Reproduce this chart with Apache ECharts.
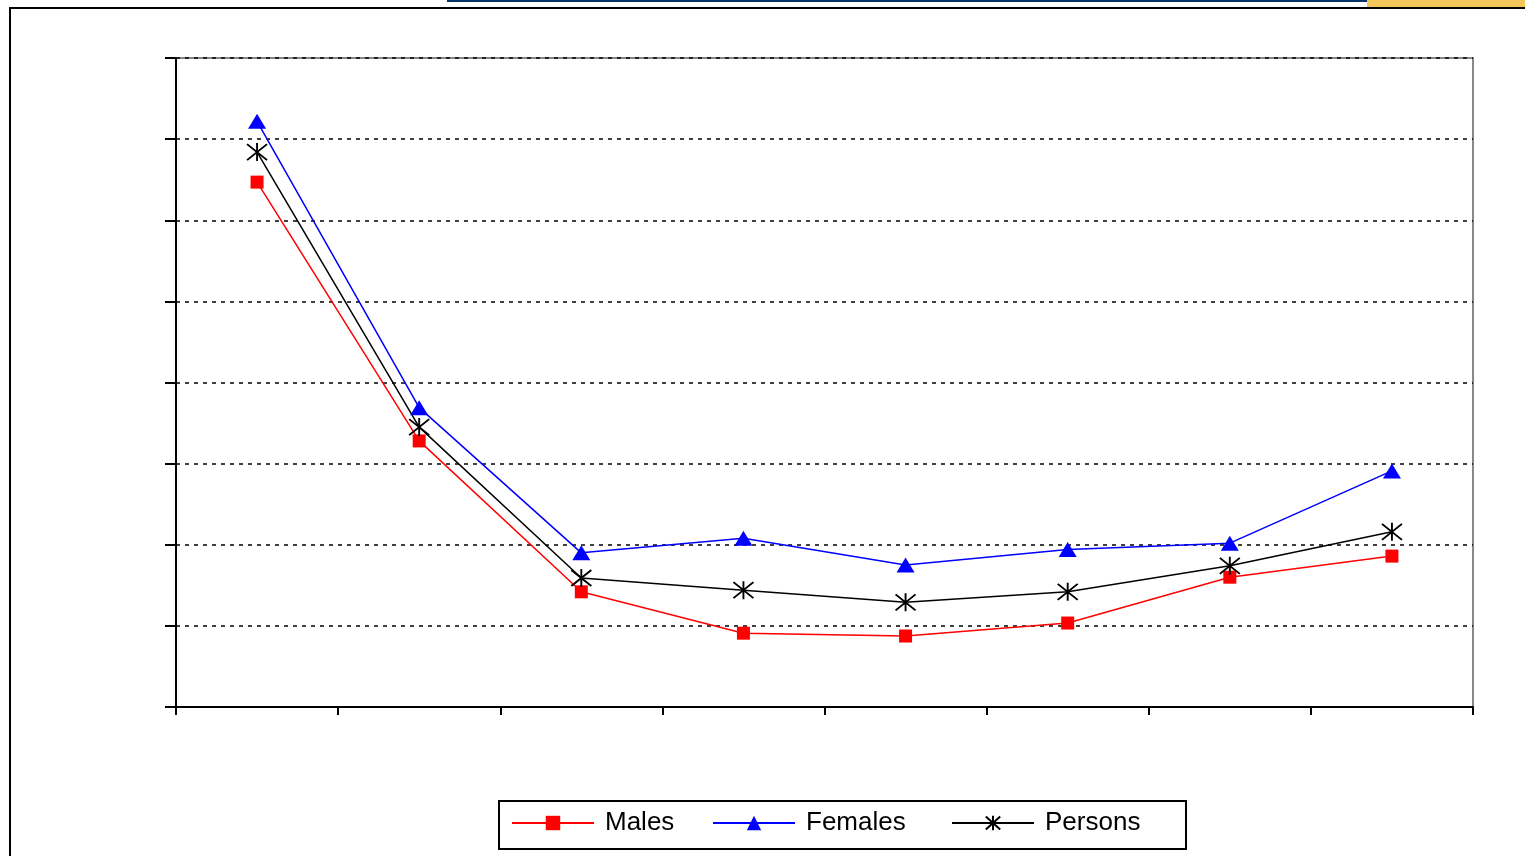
<!DOCTYPE html>
<html><head><meta charset="utf-8">
<script src="https://cdn.jsdelivr.net/npm/echarts@6/dist/echarts.min.js"></script>
<style>html,body{margin:0;padding:0;background:#fff}#c{width:1525px;height:856px}</style>
</head><body><div id="c"></div>
<script>
var categories = ['1', '2', '3', '4', '5', '6', '7', '8'];
var males = [6.47, 3.28, 1.42, 0.91, 0.875, 1.035, 1.60, 1.86];
var females = [7.22, 3.69, 1.90, 2.08, 1.75, 1.94, 2.02, 2.91];
var persons = [6.84, 3.45, 1.59, 1.44, 1.29, 1.42, 1.74, 2.16];
var yTicks = [0, 1, 2, 3, 4, 5, 6, 7, 8];
var seriesNames = ['Males', 'Females', 'Persons'];

var asterisk = 'path://M0,-9L0,9M-10,-8L10,8M10,-8L-10,8';

function legendAt(name, left) {
  return {
    left: left, top: 810, padding: 0,
    itemWidth: 82, itemHeight: 18,
    textStyle: {fontFamily: 'Liberation Sans', fontSize: 26, color: '#000', padding: [0, 0, 0, 6]},
    data: [name]
  };
}

var chart = echarts.init(document.getElementById('c'), null, {renderer: 'canvas'});
chart.setOption({
  animation: false,
  backgroundColor: '#fff',
  graphic: [
    {type: 'rect', shape: {x: 10, y: 8, width: 1530, height: 870}, style: {fill: 'none', stroke: '#000', lineWidth: 2}, silent: true},
    {type: 'rect', shape: {x: 447, y: 0, width: 921, height: 2}, style: {fill: '#003366'}, silent: true},
    {type: 'rect', shape: {x: 1367, y: 0, width: 160, height: 7}, style: {fill: '#f5c65a'}, silent: true},
    {type: 'rect', shape: {x: 499, y: 801, width: 687, height: 48}, style: {fill: 'none', stroke: '#000', lineWidth: 2}, silent: true}
  ],
  grid: {left: 176, top: 58, right: 52, bottom: 149, show: true, borderColor: '#888', borderWidth: 2},
  legend: [legendAt(seriesNames[0], 511), legendAt(seriesNames[1], 712), legendAt(seriesNames[2], 951)],
  xAxis: {
    type: 'category', data: categories, boundaryGap: true,
    axisLine: {lineStyle: {color: '#000', width: 2}},
    axisTick: {show: true, interval: 0, length: 8, lineStyle: {color: '#000', width: 2}},
    axisLabel: {show: false}
  },
  yAxis: {
    type: 'value', min: yTicks[0], max: yTicks[yTicks.length - 1], interval: 1,
    axisLine: {show: true, lineStyle: {color: '#000', width: 2}},
    axisTick: {show: true, length: 11, lineStyle: {color: '#000', width: 2}},
    axisLabel: {show: false},
    splitLine: {lineStyle: {color: '#000', type: [4, 5], width: 1.5}}
  },
  series: [
    {name: seriesNames[0], type: 'line', data: males, symbol: 'rect', symbolSize: 13,
      lineStyle: {color: '#ff0000', width: 1.5}, itemStyle: {color: '#ff0000'}},
    {name: seriesNames[1], type: 'line', data: females, symbol: 'triangle', symbolSize: [18, 15],
      lineStyle: {color: '#0000ff', width: 1.5}, itemStyle: {color: '#0000ff'}},
    {name: seriesNames[2], type: 'line', data: persons, symbol: asterisk, symbolSize: [20, 18],
      lineStyle: {color: '#000', width: 1.5}, itemStyle: {color: '#000', borderColor: '#000', borderWidth: 1.8}}
  ]
});
</script></body></html>
